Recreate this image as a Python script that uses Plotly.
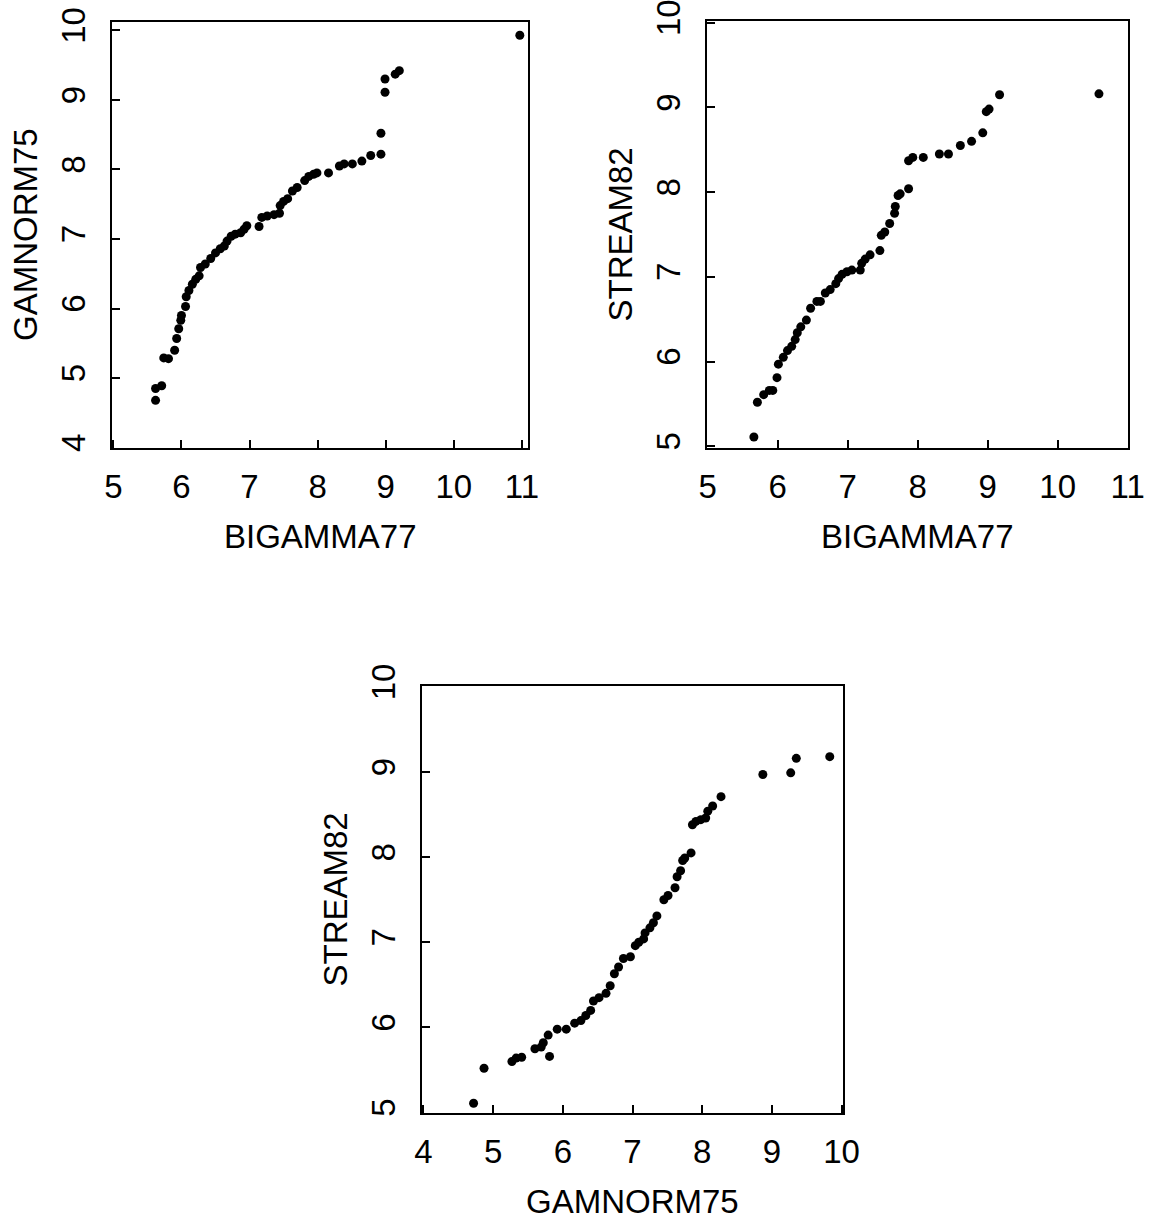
import plotly.graph_objects as go

# Sorted-quantile pairs for each panel
bigamma77_a = [5.62, 5.62, 5.71, 5.74, 5.81, 5.90, 5.93, 5.96, 5.99, 6.00, 6.06, 6.07,
               6.11, 6.16, 6.21, 6.26, 6.28, 6.35, 6.43, 6.50, 6.57, 6.63, 6.67, 6.73,
               6.79, 6.87, 6.92, 6.96, 7.14, 7.18, 7.26, 7.36, 7.44, 7.45, 7.50, 7.56,
               7.63, 7.70, 7.81, 7.87, 7.94, 7.99, 8.16, 8.32, 8.39, 8.51, 8.65, 8.78,
               8.93, 8.93, 8.99, 8.99, 9.14, 9.20, 10.97]
gamnorm75_a = [4.68, 4.85, 4.89, 5.29, 5.28, 5.40, 5.57, 5.71, 5.83, 5.90, 6.03, 6.17,
               6.26, 6.35, 6.42, 6.47, 6.59, 6.64, 6.72, 6.80, 6.86, 6.90, 6.97, 7.04,
               7.07, 7.09, 7.14, 7.19, 7.18, 7.31, 7.33, 7.35, 7.37, 7.48, 7.54, 7.58,
               7.69, 7.74, 7.84, 7.90, 7.93, 7.95, 7.95, 8.05, 8.08, 8.08, 8.12, 8.20,
               8.22, 8.52, 9.11, 9.30, 9.37, 9.42, 9.93]

bigamma77_b = [5.66, 5.71, 5.80, 5.88, 5.93, 5.99, 6.01, 6.08, 6.14, 6.20, 6.25, 6.28,
               6.33, 6.41, 6.47, 6.56, 6.61, 6.68, 6.75, 6.83, 6.87, 6.92, 6.99, 7.06,
               7.18, 7.20, 7.25, 7.32, 7.46, 7.48, 7.53, 7.60, 7.67, 7.68, 7.72, 7.75,
               7.87, 7.87, 7.93, 8.08, 8.31, 8.44, 8.61, 8.77, 8.93, 8.98, 9.02, 9.17,
               10.59]
stream82_b = [5.11, 5.52, 5.61, 5.66, 5.66, 5.81, 5.97, 6.05, 6.13, 6.18, 6.26, 6.34,
              6.41, 6.49, 6.63, 6.71, 6.71, 6.81, 6.85, 6.92, 6.98, 7.03, 7.06, 7.08,
              7.08, 7.16, 7.21, 7.26, 7.31, 7.49, 7.53, 7.63, 7.75, 7.83, 7.96, 7.98,
              8.04, 8.37, 8.41, 8.41, 8.45, 8.45, 8.55, 8.60, 8.70, 8.95, 8.98, 9.15,
              9.16]

gamnorm75_c = [4.72, 4.87, 5.27, 5.33, 5.41, 5.60, 5.69, 5.72, 5.79, 5.81, 5.92, 6.05,
               6.17, 6.26, 6.33, 6.40, 6.44, 6.52, 6.62, 6.68, 6.74, 6.80, 6.87, 6.97,
               7.04, 7.09, 7.16, 7.18, 7.25, 7.30, 7.35, 7.45, 7.51, 7.61, 7.64, 7.69,
               7.72, 7.75, 7.84, 7.86, 7.91, 7.98, 8.05, 8.08, 8.15, 8.27, 8.87, 9.27,
               9.35, 9.83]
stream82_c = [5.11, 5.52, 5.60, 5.64, 5.65, 5.75, 5.77, 5.82, 5.91, 5.66, 5.98, 5.98,
              6.05, 6.08, 6.14, 6.20, 6.31, 6.35, 6.40, 6.49, 6.63, 6.71, 6.81, 6.83,
              6.96, 7.00, 7.04, 7.11, 7.17, 7.23, 7.31, 7.50, 7.55, 7.64, 7.77, 7.84,
              7.96, 7.99, 8.05, 8.38, 8.42, 8.44, 8.46, 8.54, 8.60, 8.71, 8.97, 8.99,
              9.16, 9.18]

tick_vals_a_x = [5, 6, 7, 8, 9, 10, 11]
tick_vals_a_y = [4, 5, 6, 7, 8, 9, 10]
tick_vals_b_y = [5, 6, 7, 8, 9, 10]
tick_vals_c_x = [4, 5, 6, 7, 8, 9, 10]

W, H = 1154, 1220
FONT = "Liberation Sans, Arial, Helvetica, sans-serif"
FS = 33


def px_x(p):
    return p / W


def px_y(p):
    return 1 - p / H


# panel boxes in pixels: (left, right, top, bottom)
boxes = {
    "a": (112, 528, 22, 448),
    "b": (707, 1128, 21, 448),
    "c": (422, 843, 686, 1113),
}

fig = go.Figure()
marker = dict(color="black", size=9, line=dict(width=0))
fig.add_trace(go.Scatter(x=bigamma77_a, y=gamnorm75_a, mode="markers", marker=marker,
                         xaxis="x", yaxis="y", showlegend=False, cliponaxis=False))
fig.add_trace(go.Scatter(x=bigamma77_b, y=stream82_b, mode="markers", marker=marker,
                         xaxis="x2", yaxis="y2", showlegend=False, cliponaxis=False))
fig.add_trace(go.Scatter(x=gamnorm75_c, y=stream82_c, mode="markers", marker=marker,
                         xaxis="x3", yaxis="y3", showlegend=False, cliponaxis=False))

axis_common = dict(
    showline=True, linecolor="black", linewidth=2, mirror=True,
    ticks="inside", ticklen=8, tickwidth=2, tickcolor="black",
    showgrid=False, zeroline=False, automargin=False,
    tickfont=dict(family=FONT, size=FS, color="black"),
    ticklabeloverflow="allow",
)


def xa(key, rng, vals, anchor):
    l, r, t, b = boxes[key]
    return dict(axis_common, domain=[px_x(l), px_x(r)], range=rng, tickvals=vals,
                anchor=anchor, ticklabelstandoff=8)


def ya(key, rng, vals, anchor):
    l, r, t, b = boxes[key]
    return dict(axis_common, domain=[px_y(b), px_y(t)], range=rng, tickvals=vals,
                anchor=anchor, tickangle=-90, ticklabelstandoff=12)


fig.update_layout(
    width=W, height=H, margin=dict(l=0, r=0, t=0, b=0),
    paper_bgcolor="white", plot_bgcolor="white",
    xaxis=xa("a", [4.98, 11.09], tick_vals_a_x, "y"),
    yaxis=ya("a", [3.995, 10.12], tick_vals_a_y, "x"),
    xaxis2=xa("b", [4.99, 11.005], tick_vals_a_x, "y2"),
    yaxis2=ya("b", [4.98, 10.02], tick_vals_b_y, "x2"),
    xaxis3=xa("c", [3.98, 10.02], tick_vals_c_x, "y3"),
    yaxis3=ya("c", [4.995, 10.01], tick_vals_b_y, "x3"),
)

titles = [
    ("a", "BIGAMMA77", "GAMNORM75"),
    ("b", "BIGAMMA77", "STREAM82"),
    ("c", "GAMNORM75", "STREAM82"),
]
for key, xt, yt in titles:
    l, r, t, b = boxes[key]
    fig.add_annotation(text=xt, x=px_x((l + r) / 2), y=px_y(b + 88), xref="paper",
                       yref="paper", showarrow=False, xanchor="center", yanchor="middle",
                       font=dict(family=FONT, size=FS, color="black"))
    fig.add_annotation(text=yt, x=px_x(l - 87), y=px_y((t + b) / 2), xref="paper",
                       yref="paper", showarrow=False, xanchor="center", yanchor="middle",
                       textangle=-90, font=dict(family=FONT, size=FS, color="black"))

fig.write_html("out.html")
